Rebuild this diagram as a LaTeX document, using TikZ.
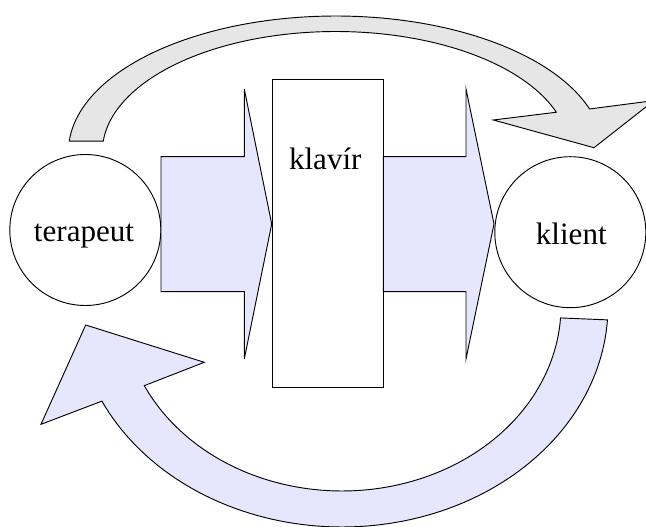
\documentclass[tikz,border=0pt]{standalone}
\usepackage{fontspec}
\setmainfont{Liberation Serif}
\definecolor{arrowgrey}{RGB}{230,230,230}
\definecolor{lavender}{RGB}{230,230,255}
\begin{document}
\begin{tikzpicture}[x=0.75pt,y=-0.75pt,
    outline/.style={draw=black,line width=0.7pt,line join=miter},
    roundbox/.style={outline,circle,fill=white,inner sep=0pt,minimum size=113.25pt},
    caption/.style={anchor=base,inner sep=0pt,font=\fontsize{23.3}{28}\selectfont}]
\useasboundingbox (0,0) rectangle (646,527);
\clip (0,0) rectangle (646,527);

% the two persons and the instrument
\node[roundbox] (terapeut) at (85.3,230) {};
\node[roundbox] (klient) at (570.3,232.2) {};
\node[outline,fill=white,inner sep=0pt,anchor=north west,
      minimum width=83.7pt,minimum height=230.8pt] (klavir) at (271.7,79) {};

% block arrows: terapeut -> klavir -> klient
\path[outline,fill=lavender]
  (161,156.7) -- (244.3,156.7) -- (244.3,89) -- (271.7,224)
  -- (244.3,359) -- (244.3,291.7) -- (161,291.7) -- cycle;
\path[outline,fill=lavender]
  (383.3,156.7) -- (466,156.7) -- (466,89) -- (494,224)
  -- (466,359) -- (466,291.7) -- (383.3,291.7) -- cycle;

% upper curved arrow (grey)
\path[outline,fill=arrowgrey]
  plot[domain=-175.6:-18.3,samples=90] ({335.8+267.3*cos(\x)},{151.5+135.5*sin(\x)})
  -- (654,100.6) -- (594,147.7) -- (493.3,120)
  -- plot[domain=-19.1:-175,samples=90] ({335.8+233.4*cos(\x)},{151.5+120*sin(\x)})
  -- cycle;

% lower curved arrow (lavender)
\path[outline,fill=lavender]
  plot[domain=3.6:154.5,samples=90] ({342+266*cos(\x)},{306+221*sin(\x)})
  -- (41,424.3) -- (85.7,325) -- (204.3,362.3)
  -- plot[domain=154.5:3.7,samples=90] ({342+219*cos(\x)},{306+185*sin(\x)})
  -- cycle;

% labels
\node[caption] (terapeut-text) at (84,241.7) {terapeut};
\node[caption] (klient-text) at (571.3,245) {klient};
\node[caption] (klavir-text) at (325.3,170) {klavír};
\end{tikzpicture}
\end{document}
